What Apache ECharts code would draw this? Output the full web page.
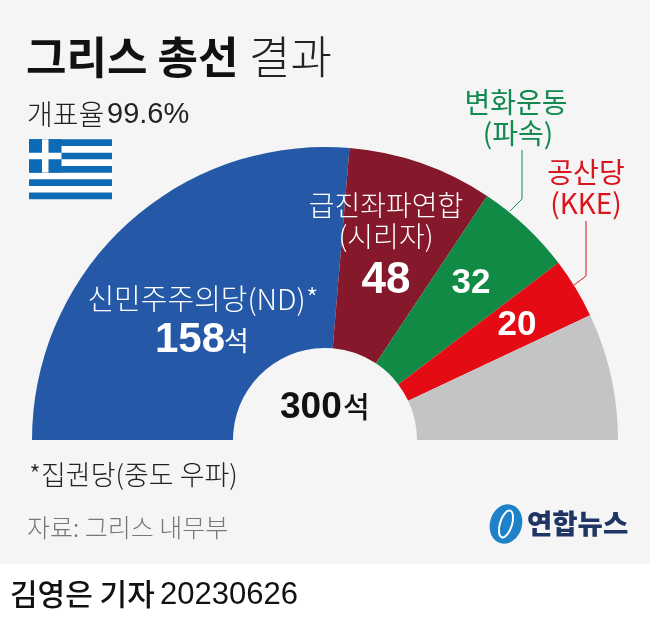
<!DOCTYPE html>
<html><head><meta charset="utf-8">
<script src="https://cdn.jsdelivr.net/npm/echarts@6/dist/echarts.min.js"></script>
<style>html,body{margin:0;padding:0;background:#fff}#c{width:650px;height:624px}</style>
</head><body><div id="c"></div>
<script>
const parties = ['신민주주의당(ND)','급진좌파연합(시리자)','변화운동(파속)','공산당(KKE)','기타'];
const seats = [158,48,32,20,42];
const colors = ['#2559a7','#85182a','#118a45','#e50b14','#c4c4c4'];
const F = '"Noto Sans CJK KR","Noto Sans",sans-serif';
const N = '"Liberation Sans",Arial,sans-serif';
const chart = echarts.init(document.getElementById('c'),null,{renderer:'canvas'});
function t(x,y,text,size,fill,weight,align,extra){
  return {type:'text',z:10,style:Object.assign({x,y,text,fontSize:size,fill,fontWeight:weight||400,fontFamily:F,align:align||'left',verticalAlign:'middle'},extra||{})};
}
function r(x,y,w,h,fill,z){return {type:'rect',z:z||1,shape:{x,y,width:w,height:h},style:{fill}};}
const flagBlue='#0d6ab5';
const flag=[];
flag.push(r(29,139.3,83,60,'#ffffff',2));
for(let i=0;i<5;i++) flag.push(r(29,139.3+i*13.33,83,6.67,flagBlue,3));
flag.push(r(29,139.3,32.5,33.3,flagBlue,4));
flag.push(r(42,139.3,6.5,33.3,'#ffffff',5));
flag.push(r(29,152.7,32.5,6.67,'#ffffff',5));
chart.setOption({
  animation:false,
  backgroundColor:'#ffffff',
  graphic:{elements:[
    r(0,0,650,564,'#f5f5f5',0),
    ...flag,
    t(26,57,'그리스 총선',44,'#111111',700),
    t(249,57,'결과',45,'#222222',300),
    t(27,114,'개표율',28,'#222222',300),
    t(107,115,'99.6%',29,'#222222',300,'left',{fontFamily:N}),
    t(516,102,'변화운동',28,'#128a50',400,'center'),
    t(518,133,'(파속)',28,'#128a50',400,'center'),
    t(586,172,'공산당',28,'#d9141e',400,'center'),
    t(586,203,'(KKE)',28,'#d9141e',400,'center'),
    {type:'polyline',z:10,shape:{points:[[522,150],[522,199],[510,211]]},style:{stroke:'#128a50',lineWidth:1,fill:null}},
    {type:'polyline',z:10,shape:{points:[[586,221],[586,276],[574,285]]},style:{stroke:'#d9141e',lineWidth:1,fill:null}},
    t(386,205,'급진좌파연합',28,'#ffffff',300,'center'),
    t(386,236,'(시리자)',28,'#ffffff',300,'center'),
    t(386,281,'48',44,'#ffffff',700,'center',{fontFamily:N}),
    t(471,283,'32',35,'#ffffff',700,'center',{fontFamily:N}),
    t(517,325,'20',35,'#ffffff',700,'center',{fontFamily:N}),
    t(203,299,'신민주주의당(ND)*',29,'#ffffff',300,'center'),
    t(155,340,'158',42,'#ffffff',700,'left',{fontFamily:N}),
    t(224,341,'석',27,'#ffffff',400,'left'),
    t(280,408,'300',37,'#111111',700,'left',{fontFamily:N}),
    t(343,407,'석',29,'#111111',500,'left'),
    t(29,475,'*집권당(중도 우파)',27,'#222222',300),
    t(27,527,'자료: 그리스 내무부',25,'#777777',300),
    {type:'ellipse',z:10,shape:{cx:506,cy:524,rx:16,ry:20},style:{fill:'#1f82c8'},rotation:-0.3,originX:506,originY:524},
    {type:'ellipse',z:11,shape:{cx:506,cy:524,rx:6,ry:14},style:{fill:'none',stroke:'#ffffff',lineWidth:2},rotation:-0.3,originX:506,originY:524},
    t(527,524,'연합뉴스',27.5,'#1f3563',900),
    t(10,594,'김영은 기자',30,'#111111',500),
    t(160,595,'20230626',31,'#111111',300,'left',{fontFamily:N})
  ]},
  series:[{
    type:'pie',
    silent:true,
    center:[325,440],
    radius:[92,293],
    startAngle:180,
    endAngle:0,
    clockwise:true,
    avoidLabelOverlap:false,
    label:{show:false},
    labelLine:{show:false},
    itemStyle:{borderWidth:0},
    data:parties.map((name,i)=>({name,value:seats[i],itemStyle:{color:colors[i]}}))
  }]
});
</script></body></html>
